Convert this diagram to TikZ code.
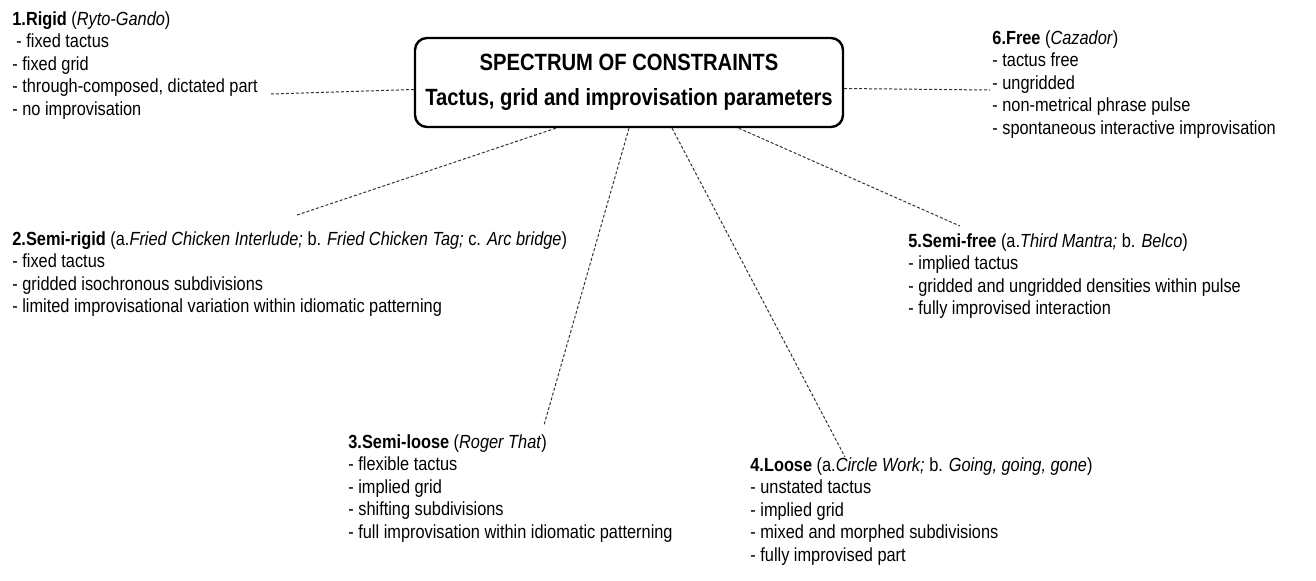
\documentclass[tikz,border=0pt]{standalone}
\usepackage{fontspec}
\setmainfont{Liberation Sans}[FakeStretch=0.86]
\usetikzlibrary{calc}
\begin{document}
\begin{tikzpicture}[x=0.5pt,y=-0.5pt,
  block/.style={anchor=north west,inner sep=0pt,align=left,
    font=\fontsize{9.5pt}{11.25pt}\selectfont},
  link/.style={draw=black!80,line width=0.5pt,dash pattern=on 1.5pt off 1pt},
  titlebox/.style={draw,line width=1.2pt,rounded corners=6pt,
    minimum width=214pt,minimum height=44.5pt,align=center,
    font=\fontsize{11.75pt}{17.5pt}\selectfont\bfseries}]
\useasboundingbox (0,0) rectangle (1316,580);

% central box
\node[titlebox] (title) at (629,82.5)
  {SPECTRUM OF CONSTRAINTS\\Tactus, grid and improvisation parameters};

% the six categories
\node[block] (rigid) at (12,11)
  {\textbf{1.Rigid} (\textit{Ryto-Gando})\\
   \hspace*{2pt}- fixed tactus\\
   - fixed grid\\
   - through-composed, dictated part\\
   - no improvisation};
\node[block] (semirigid) at (12,231)
  {\textbf{2.Semi-rigid} (a.\textit{Fried Chicken Interlude;} b. \textit{Fried Chicken Tag;} c. \textit{Arc bridge})\\
   - fixed tactus\\
   - gridded isochronous subdivisions\\
   - limited improvisational variation within idiomatic patterning};
\node[block] (semiloose) at (348,434)
  {\textbf{3.Semi-loose} (\textit{Roger That})\\
   - flexible tactus\\
   - implied grid\\
   - shifting subdivisions\\
   - full improvisation within idiomatic patterning};
\node[block] (loose) at (750,457)
  {\textbf{4.Loose} (a.\textit{Circle Work;} b. \textit{Going, going, gone})\\
   - unstated tactus\\
   - implied grid\\
   - mixed and morphed subdivisions\\
   - fully improvised part};
\node[block] (semifree) at (908,233)
  {\textbf{5.Semi-free} (a.\textit{Third Mantra;} b. \textit{Belco})\\
   - implied tactus\\
   - gridded and ungridded densities within pulse\\
   - fully improvised interaction};
\node[block] (free) at (992,30)
  {\textbf{6.Free} (\textit{Cazador})\\
   - tactus free\\
   - ungridded\\
   - non-metrical phrase pulse\\
   - spontaneous interactive improvisation};

% attachment points on the box
\coordinate (tw) at ($(title.west)+(0,7)$);
\coordinate (te) at ($(title.east)+(0,6)$);
\coordinate (tb3) at ($(title.south west)!0.33!(title.south east)$);
\coordinate (tb4) at ($(title.south west)!0.50!(title.south east)$);
\coordinate (tb5) at ($(title.south west)!0.60!(title.south east)$);
\coordinate (tb6) at ($(title.south west)!0.755!(title.south east)$);

% loose ends of the connectors
\coordinate (e1) at (271,94);
\coordinate (e2) at (990,90);
\coordinate (e3) at (297,215);
\coordinate (e4) at (544,425);
\coordinate (e5) at (845,457);
\coordinate (e6) at (960,226);

\draw[link] (tw) -- (e1);
\draw[link] (te) -- (e2);
\draw[link] (tb3) -- (e3);
\draw[link] (tb4) -- (e4);
\draw[link] (tb5) -- (e5);
\draw[link] (tb6) -- (e6);
\end{tikzpicture}
\end{document}
